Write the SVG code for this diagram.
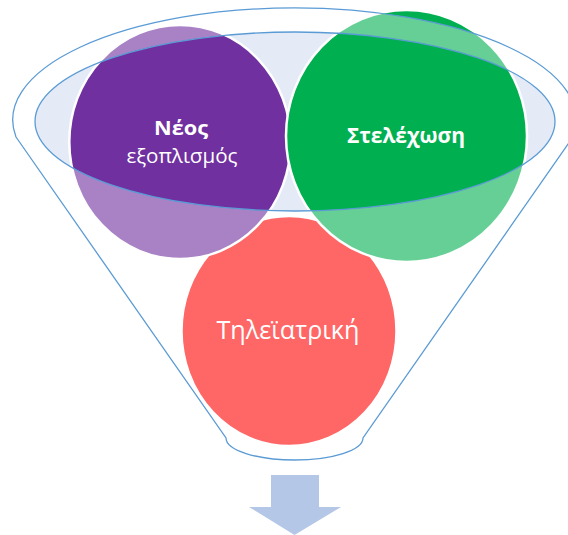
<svg xmlns="http://www.w3.org/2000/svg" width="568" height="535" viewBox="0 0 568 535">
  <style>
    .node { stroke: #FFFFFF; stroke-width: 2.5; }
    .label { font-family: "Open Sans", "Noto Sans", "DejaVu Sans", sans-serif; fill: #FFFFFF; text-anchor: middle; }
    .bold { font-weight: bold; }
    .outline { fill: none; stroke: #5B9BD5; stroke-width: 1.3; }
  </style>
  <rect x="0" y="0" width="568" height="535" fill="#FFFFFF"/>

  <g id="funnel-opening">
    <ellipse cx="295" cy="121.5" rx="260" ry="89.5" fill="#E4EBF6"/>
  </g>

  <g id="node-telemedicine">
    <ellipse class="node" cx="289" cy="331" rx="107.5" ry="115" fill="#FF0000"/>
    <text class="label" x="288" y="339" font-size="26" textLength="143" lengthAdjust="spacingAndGlyphs">Τηλεϊατρική</text>
  </g>

  <g id="node-equipment">
    <ellipse class="node" cx="180" cy="142" rx="110.7" ry="117" fill="#7030A0"/>
    <text class="label bold" x="181" y="135" font-size="20" textLength="54" lengthAdjust="spacingAndGlyphs">Νέος</text>
    <text class="label" x="182" y="163" font-size="20" textLength="111" lengthAdjust="spacingAndGlyphs">εξοπλισμός</text>
  </g>

  <g id="node-staff">
    <ellipse class="node" cx="406.5" cy="136" rx="120.5" ry="126" fill="#00B050"/>
    <text class="label bold" x="406" y="143" font-size="22" textLength="118" lengthAdjust="spacingAndGlyphs">Στελέχωση</text>
  </g>

  <g id="funnel-body">
    <path fill="#FFFFFF" fill-opacity="0.4" fill-rule="evenodd" d="M 16 137 L 226 438 A 68.5 22 0 0 0 363 438 L 573 137 A 281.8 112 0 1 0 16 137 Z M 35 121.5 A 260 89.5 0 1 0 555 121.5 A 260 89.5 0 1 0 35 121.5 Z"/>
    <path class="outline" d="M 16 137 L 226 438 A 68.5 22 0 0 0 363 438 L 573 137 A 281.8 112 0 1 0 16 137 Z"/>
    <ellipse class="outline" cx="295" cy="121.5" rx="260" ry="89.5"/>
  </g>

  <g id="connectors">
    <polygon points="271,475 319,475 319,507 341,507 294.5,535 249,507 271,507" fill="#B4C7E7"/>
  </g>
</svg>
